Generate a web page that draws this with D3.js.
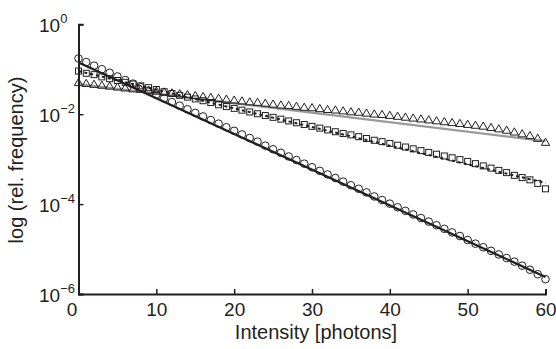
<!DOCTYPE html>
<html>
<head>
<meta charset="utf-8">
<script src="https://cdn.jsdelivr.net/npm/d3@7"></script>
<style>
  body { margin: 0; background: #fff; }
  svg text { font-family: "Liberation Sans", Arial, sans-serif; fill: #231f20; }
</style>
</head>
<body>
<svg id="chart" width="556" height="349"></svg>
<script>
// photon counts 0..60
const counts = d3.range(0, 61);

// log10 of relative frequency
const circleLog = [-0.76,-0.84,-0.92,-1.00,-1.08,-1.16,-1.24,-1.32,-1.40,-1.48,
  -1.57,-1.65,-1.73,-1.81,-1.89,-1.97,-2.05,-2.13,-2.21,-2.29,
  -2.37,-2.45,-2.53,-2.61,-2.70,-2.78,-2.86,-2.94,-3.02,-3.10,
  -3.18,-3.26,-3.34,-3.42,-3.50,-3.58,-3.66,-3.74,-3.83,-3.91,
  -3.99,-4.07,-4.15,-4.23,-4.31,-4.39,-4.47,-4.55,-4.63,-4.71,
  -4.80,-4.88,-4.96,-5.04,-5.12,-5.20,-5.28,-5.37,-5.46,-5.56,-5.67];
const squareLog = [-1.04,-1.09,-1.12,-1.17,-1.21,-1.25,-1.29,-1.33,-1.37,-1.41,
  -1.45,-1.50,-1.54,-1.58,-1.62,-1.66,-1.70,-1.74,-1.79,-1.83,
  -1.87,-1.91,-1.95,-1.99,-2.03,-2.07,-2.11,-2.15,-2.19,-2.23,
  -2.27,-2.31,-2.35,-2.39,-2.43,-2.46,-2.50,-2.54,-2.58,-2.61,
  -2.65,-2.69,-2.73,-2.77,-2.81,-2.85,-2.89,-2.93,-2.97,-3.01,
  -3.05,-3.10,-3.15,-3.20,-3.25,-3.30,-3.36,-3.41,-3.46,-3.54,-3.66];
const triangleLog = [-1.31,-1.33,-1.35,-1.37,-1.39,-1.41,-1.43,-1.45,-1.46,-1.48,
  -1.50,-1.52,-1.54,-1.56,-1.58,-1.60,-1.62,-1.64,-1.66,-1.68,
  -1.70,-1.72,-1.74,-1.75,-1.77,-1.79,-1.81,-1.82,-1.84,-1.86,
  -1.87,-1.89,-1.91,-1.92,-1.94,-1.96,-1.97,-1.99,-2.01,-2.02,
  -2.04,-2.06,-2.08,-2.10,-2.12,-2.14,-2.16,-2.18,-2.20,-2.22,
  -2.24,-2.26,-2.28,-2.31,-2.34,-2.37,-2.41,-2.45,-2.49,-2.55,-2.64];

// fitted lines: [x, log10 value] at both ends
const fitSolid  = [[0, -0.85], [60, -5.62]];
const fitDashed = [[0, -1.04], [60, -3.53]];
const fitGray   = [[0, -1.33], [60, -2.60]];

const xTicks = [0, 10, 20, 30, 40, 50, 60];
const yTicks = [0, -2, -4, -6];

const svg = d3.select("#chart");
const x = d3.scaleLinear().domain([0, 60]).range([78.5, 545.5]);
const y = d3.scaleLog().domain([1e-6, 1]).range([294, 24.3]);

const pow = e => Math.pow(10, e);

// lines
const line = d3.line().x(d => x(d[0])).y(d => y(pow(d[1])));
svg.append("path").datum(fitGray).attr("d", line)
  .attr("fill", "none").attr("stroke", "#9a9a9a").attr("stroke-width", 2.2);
svg.append("path").datum(fitSolid).attr("d", line)
  .attr("fill", "none").attr("stroke", "#231f20").attr("stroke-width", 2.2);

// markers
const mk = svg.append("g").attr("fill", "none").attr("stroke", "#231f20").attr("stroke-width", 1);

mk.selectAll("circle").data(counts).join("circle")
  .attr("cx", d => x(d)).attr("cy", d => y(pow(circleLog[d])))
  .attr("r", 3.8);

mk.selectAll("rect").data(counts).join("rect")
  .attr("x", d => x(d) - 3).attr("y", d => y(pow(squareLog[d])) - 3)
  .attr("width", 6).attr("height", 6);

const tri = d3.symbol().type(d3.symbolTriangle).size(30);
mk.selectAll("path.tri").data(counts).join("path").attr("class", "tri")
  .attr("d", tri)
  .attr("transform", d => `translate(${x(d)},${y(pow(triangleLog[d]))})`);

svg.append("path").datum(fitDashed).attr("d", line)
  .attr("fill", "none").attr("stroke", "#231f20").attr("stroke-width", 2)
  .attr("stroke-dasharray", "3,3");

// axes
const xAxis = svg.append("g").attr("transform", "translate(0,294)")
  .call(d3.axisBottom(x).tickValues(xTicks).tickSize(-5).tickPadding(9));
xAxis.selectAll(".tick text").attr("font-size", 19)
  .attr("dx", d => d === 0 ? -7 : 0);

const yAxis = svg.append("g").attr("transform", "translate(78.5,0)")
  .call(d3.axisLeft(y).tickValues(yTicks.map(pow)).tickSize(-5).tickFormat(""));

// "10" with a superscript exponent, "10" ending about 20px left of the axis
yAxis.selectAll(".tick").each(function (d) {
  const e = Math.round(Math.log10(d));
  const t = d3.select(this).append("text")
    .attr("x", -39.5).attr("y", 7).attr("text-anchor", "start")
    .attr("font-size", 19);
  t.append("tspan").text("10");
  t.append("tspan").attr("font-size", 13).attr("dy", -9)
    .text(e === 0 ? "0" : "\u2212" + Math.abs(e));
});

[xAxis, yAxis].forEach(a => {
  a.select(".domain").attr("stroke", "#231f20").attr("stroke-width", 2);
  a.selectAll(".tick line").attr("stroke", "#231f20").attr("stroke-width", 1.5);
});

svg.append("text").attr("x", 316).attr("y", 339)
  .attr("text-anchor", "middle").attr("font-size", 20)
  .text("Intensity [photons]");

svg.append("text")
  .attr("transform", "translate(22.5,160) rotate(-90)")
  .attr("text-anchor", "middle").attr("font-size", 20)
  .text("log (rel. frequency)");
</script>
</body>
</html>
